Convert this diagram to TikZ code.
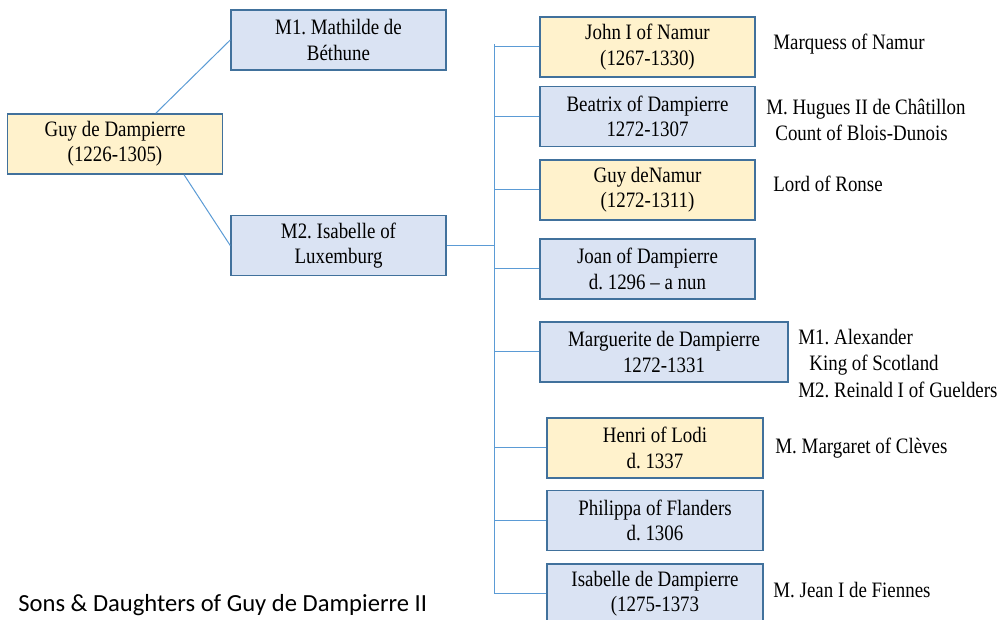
\documentclass[tikz,border=0pt]{standalone}
\usepackage{fontspec}
\setmainfont{Liberation Serif}[FakeStretch=0.86]
\newfontfamily\captionfont{Carlito}
\definecolor{boxblue}{HTML}{DAE3F3}
\definecolor{boxgold}{HTML}{FFF2CC}
\definecolor{edgeblue}{HTML}{41719C}
\definecolor{linkblue}{HTML}{5B9BD5}
\frenchspacing

\begin{document}
\begin{tikzpicture}[x=0.5pt,y=-0.5pt,
  person/.style={draw=edgeblue,line width=0.75pt,fill=boxblue,minimum width=107.5pt,minimum height=30pt,inner sep=0pt,align=center,font=\fontsize{11}{12.7}\selectfont},
  heir/.style={person,fill=boxgold},
  note/.style={anchor=west,inner sep=0pt,align=left,font=\fontsize{11}{13.3}\selectfont},
  link/.style={draw=linkblue,line width=0.5pt}]
  \useasboundingbox (0,0) rectangle (1003,620);
  \node[heir]   (guy)      at (115, 144)   {Guy de Dampierre\\(1226-1305)};
  \node[person] (m1)       at (338.5, 40)  {M1. Mathilde de\\B\'ethune};
  \node[person] (m2)       at (338.5, 245.5) {M2. Isabelle of\\Luxemburg};
  \node[heir]   (john)     at (647.5, 47)  {John I of Namur\\(1267-1330)};
  \node[person] (beatrix)  at (647.5, 116.5) {Beatrix of Dampierre\\1272-1307};
  \node[heir]   (guyn)     at (647.5, 190) {Guy deNamur\\(1272-1311)};
  \node[person] (joan)     at (647.5, 269) {Joan of Dampierre\\d. 1296 -- a nun};
  \node[person,minimum width=124pt] (marg) at (664, 352) {Marguerite de Dampierre\\1272-1331};
  \node[heir,minimum width=108pt]   (henri) at (655, 448) {Henri of Lodi\\d. 1337};
  \node[person,minimum width=108pt] (philippa) at (655, 520.5) {Philippa of Flanders\\d. 1306};
  \node[person,minimum width=108pt] (isabelle) at (655, 594) {Isabelle de Dampierre\\(1275-1373};
  \coordinate (ttop) at (494, 44);
  \coordinate (tbot) at (494, 594);
  \path[link] (guy.37) -- (m1.west);
  \path[link] (guy.-24) -- (m2.west);
  \path[link] (m2.east) -- (m2.east -| ttop);
  \path[link] (ttop) -- (tbot);
  \foreach \kid in {john,beatrix,guyn,joan,marg,henri,philippa,isabelle}
    \path[link] (\kid.west) -- (\kid.west -| ttop);
  \node[note] (n1) at (773, 44)    {Marquess of Namur};
  \node[note] (n2) at (766, 120)   {M. Hugues II de Ch\^atillon\\\hspace*{4.5pt}Count of Blois-Dunois};
  \node[note] (n3) at (773, 184)   {Lord of Ronse};
  \node[note] (n4) at (798, 363.5) {M1. Alexander\\\hspace*{5.5pt}King of Scotland\\M2. Reinald I of Guelders};
  \node[note] (n5) at (775, 448)   {M. Margaret of Cl\`eves};
  \node[note] (n6) at (773, 590)   {M. Jean I de Fiennes};
  \node[anchor=base west,inner sep=0pt,font=\captionfont\fontsize{12.3}{14}\selectfont] (title) at (18, 611) {Sons \& Daughters of Guy de Dampierre II};
\end{tikzpicture}
\end{document}
